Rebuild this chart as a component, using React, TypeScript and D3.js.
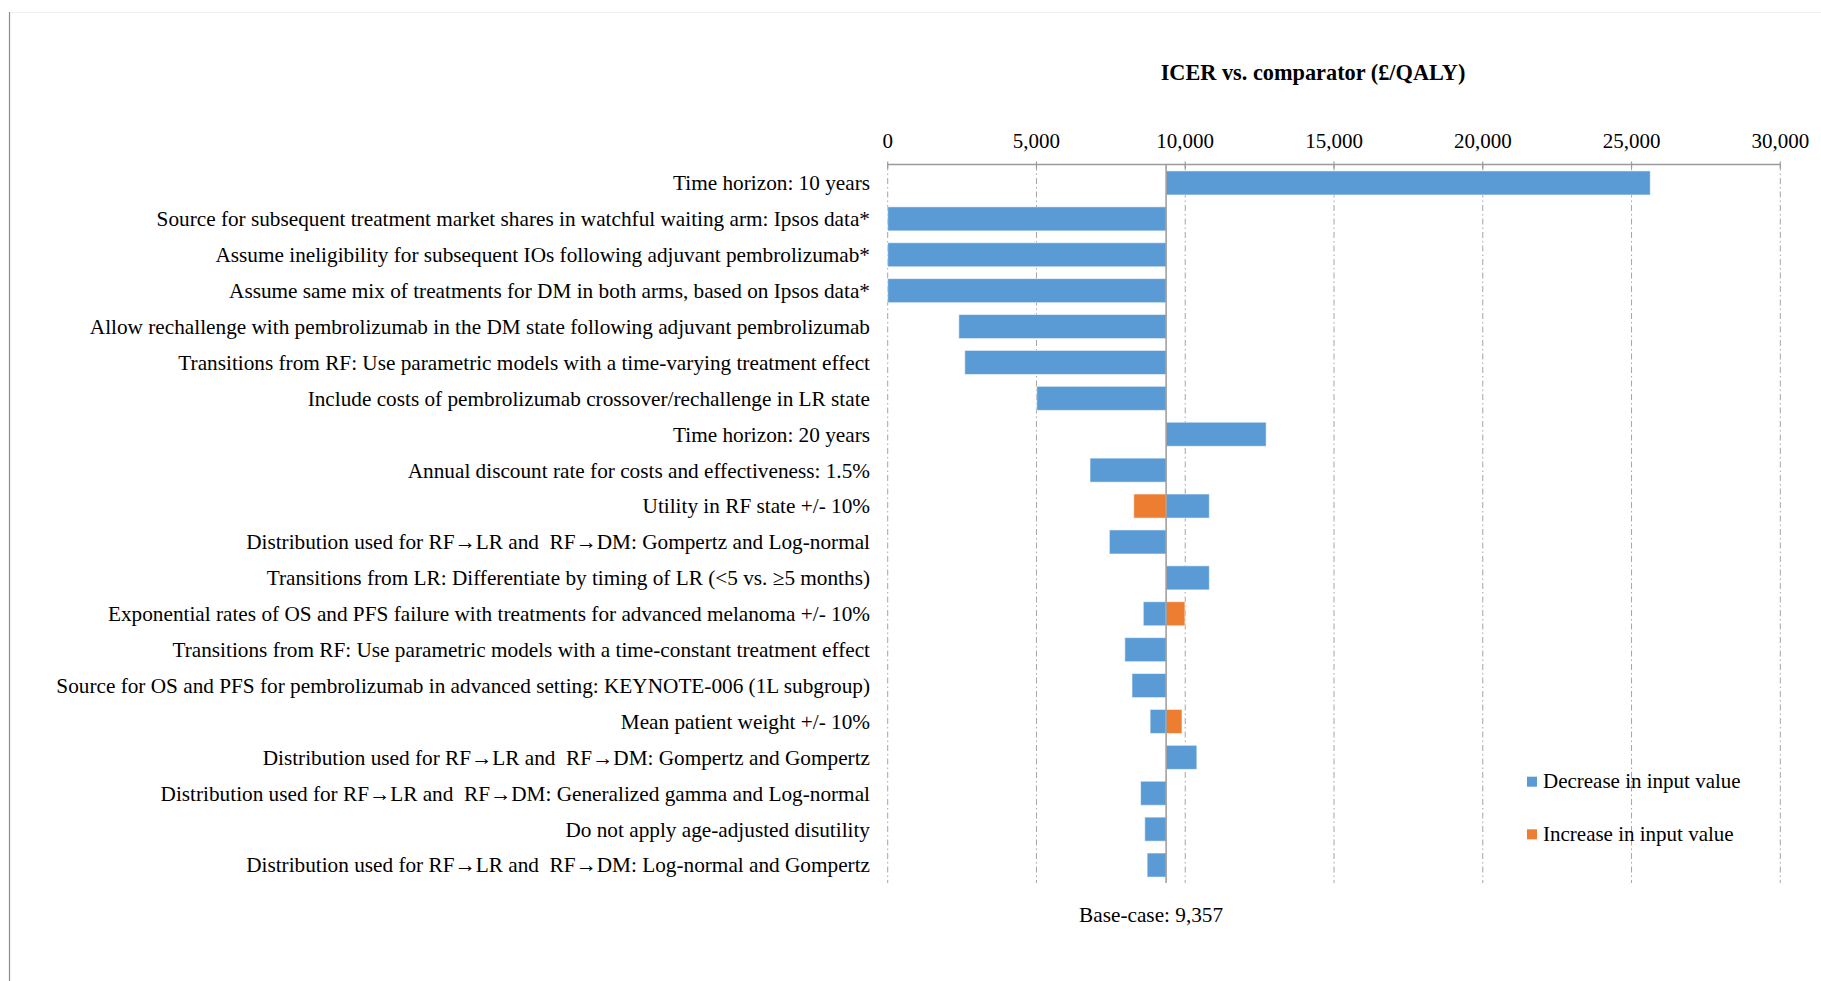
import React from "react";
import * as d3 from "d3";

const categories: string[] = [
  "Time horizon: 10 years",
  "Source for subsequent treatment market shares in watchful waiting arm: Ipsos data*",
  "Assume ineligibility for subsequent IOs following adjuvant pembrolizumab*",
  "Assume same mix of treatments for DM in both arms, based on Ipsos data*",
  "Allow rechallenge with pembrolizumab in the DM state following adjuvant pembrolizumab",
  "Transitions from RF: Use parametric models with a time-varying treatment effect",
  "Include costs of pembrolizumab crossover/rechallenge in LR state",
  "Time horizon: 20 years",
  "Annual discount rate for costs and effectiveness: 1.5%",
  "Utility in RF state +/- 10%",
  "Distribution used for RF→LR and  RF→DM: Gompertz and Log-normal",
  "Transitions from LR: Differentiate by timing of LR (<5 vs. ≥5 months)",
  "Exponential rates of OS and PFS failure with treatments for advanced melanoma +/- 10%",
  "Transitions from RF: Use parametric models with a time-constant treatment effect",
  "Source for OS and PFS for pembrolizumab in advanced setting: KEYNOTE-006 (1L subgroup)",
  "Mean patient weight +/- 10%",
  "Distribution used for RF→LR and  RF→DM: Gompertz and Gompertz",
  "Distribution used for RF→LR and  RF→DM: Generalized gamma and Log-normal",
  "Do not apply age-adjusted disutility",
  "Distribution used for RF→LR and  RF→DM: Log-normal and Gompertz",
];

// ICER when input value decreased (or scenario applied)
const decreaseValues: number[] = [
  25630, 0, 0, 0, 2390, 2590, 5010, 12720, 6800, 10810,
  7450, 10810, 8590, 7970, 8210, 8820, 10390, 8500, 8640, 8720,
];

// ICER when input value increased (null where not applicable)
const increaseValues: (number | null)[] = [
  null, null, null, null, null, null, null, null, null, 8270,
  null, null, 9990, null, null, 9890, null, null, null, null,
];

const baseCase = 9357;
const xTicks: number[] = [0, 5000, 10000, 15000, 20000, 25000, 30000];
const seriesNames: string[] = ["Decrease in input value", "Increase in input value"];
const seriesColors: string[] = ["#5B9BD5", "#ED7D31"];

const FONT = "'Liberation Serif', 'Times New Roman', serif";

export default function App() {
  const width = 1821;
  const height = 981;
  const x = d3.scaleLinear().domain([0, 30000]).range([887.7, 1780.3]);
  const y = d3
    .scaleBand<string>()
    .domain(categories)
    .range([165, 883])
    .paddingInner(0.33)
    .paddingOuter(0.165);
  const axisY = 164.5;
  const fmt = d3.format(",");
  const baseX = x(baseCase);

  const rect = (v: number, cat: string, color: string, key: string) => {
    const x0 = Math.min(x(v), baseX);
    const x1 = Math.max(x(v), baseX);
    return (
      <rect
        key={key}
        x={x0}
        y={y(cat)!}
        width={x1 - x0}
        height={y.bandwidth()}
        fill={color}
        stroke="#ffffff"
        strokeOpacity={0.55}
        strokeWidth={1}
      />
    );
  };

  return (
    <svg
      width={width}
      height={height}
      style={{ position: "absolute", left: 0, top: 0, background: "#fff" }}
      fontFamily={FONT}
    >
      <rect x={0} y={0} width={width} height={height} fill="#ffffff" />
      {/* frame */}
      <line x1={9.5} x2={width} y1={12.5} y2={12.5} stroke="#f0f0f0" strokeWidth={1} />
      <line x1={9.5} x2={9.5} y1={12} y2={height} stroke="#8c8c8c" strokeWidth={1.2} />

      {/* title */}
      <text x={1313} y={80} textAnchor="middle" fontSize={22.3} fontWeight="bold" fill="#000">
        ICER vs. comparator (£/QALY)
      </text>

      {/* gridlines */}
      {xTicks.map((t) => (
        <line
          key={"g" + t}
          x1={x(t)}
          x2={x(t)}
          y1={axisY}
          y2={883}
          stroke="#a6a6a6"
          strokeWidth={1}
          strokeDasharray="6,3,1.5,3"
        />
      ))}

      {/* axis */}
      <line x1={x(0)} x2={x(30000)} y1={axisY} y2={axisY} stroke="#9a9a9a" strokeWidth={1.5} />
      {xTicks.map((t) => (
        <g key={"t" + t}>
          <line x1={x(t)} x2={x(t)} y1={axisY - 3} y2={axisY + 4} stroke="#9a9a9a" strokeWidth={1.2} />
          <text x={x(t)} y={147.5} textAnchor="middle" fontSize={21} fill="#000">
            {fmt(t)}
          </text>
        </g>
      ))}

      {/* bars */}
      {categories.map((c, i) => (
        <g key={"b" + i}>
          {rect(decreaseValues[i], c, seriesColors[0], "d" + i)}
          {increaseValues[i] !== null && rect(increaseValues[i] as number, c, seriesColors[1], "i" + i)}
        </g>
      ))}

      {/* base-case line */}
      <line x1={baseX} x2={baseX} y1={axisY} y2={883} stroke="#9a9a9a" strokeWidth={1.5} />

      {/* category labels */}
      {categories.map((c, i) => (
        <text
          key={"l" + i}
          x={870}
          y={y(c)! + y.bandwidth() / 2}
          dy="0.35em"
          textAnchor="end"
          fontSize={21.25}
          fill="#000"
          style={{ whiteSpace: "pre" }}
        >
          {c}
        </text>
      ))}

      {/* base-case label */}
      <text x={baseX - 15} y={922} textAnchor="middle" fontSize={21.25} fill="#000">
        {"Base-case: " + fmt(baseCase)}
      </text>

      {/* legend */}
      {seriesNames.map((s, i) => (
        <g key={"lg" + i} transform={`translate(1527, ${776.7 + i * 52.6})`}>
          <rect x={0} y={0} width={10} height={10} fill={seriesColors[i]} />
          <text x={16} y={11.6} fontSize={21} fill="#000">
            {s}
          </text>
        </g>
      ))}
    </svg>
  );
}
